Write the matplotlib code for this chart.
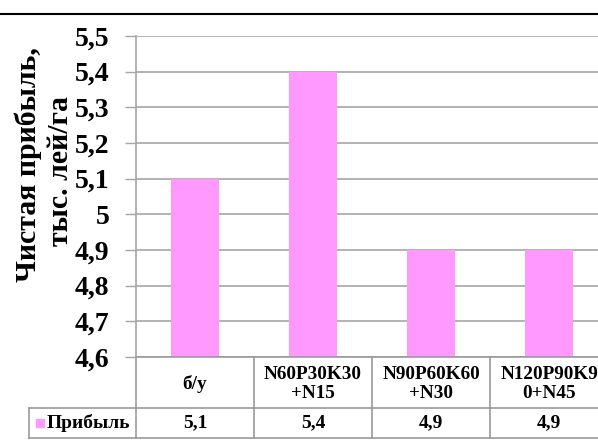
import matplotlib
matplotlib.use("Agg")
import matplotlib.pyplot as plt
from matplotlib.lines import Line2D
from matplotlib.patches import Rectangle

plt.rcParams['font.family'] = ['Liberation Serif', 'DejaVu Serif']
plt.rcParams['font.weight'] = 'bold'

categories = ["б/у", "N60P30K30\n+N15", "N90P60K60\n+N30", "N120P90K9\n0+N45"]
profit = [5.1, 5.4, 4.9, 4.9]
value_labels = ["5,1", "5,4", "4,9", "4,9"]
series_name = "Прибыль"
yticks = [4.6, 4.7, 4.8, 4.9, 5.0, 5.1, 5.2, 5.3, 5.4, 5.5]
ytick_labels = ["4,6", "4,7", "4,8", "4,9", "5", "5,1", "5,2", "5,3", "5,4", "5,5"]

W, H = 598, 444
fig = plt.figure(figsize=(W / 100, H / 100), dpi=100)
ax = fig.add_axes([136 / W, 1 - 357 / H, (608 - 136) / W, 321 / H])

pink = "#FF99FF"
grid_c = "#A6A6A6"
x = list(range(len(categories)))
ax.bar(x, [v - 4.6 for v in profit], bottom=4.6, width=0.4, color=pink, zorder=2)

ax.set_xlim(-0.5, 3.5)
ax.set_ylim(4.6, 5.5)
ax.set_yticks(yticks)
ax.set_yticklabels(ytick_labels, fontsize=20, fontweight='bold')
ax.set_xticks([])
ax.yaxis.grid(True, color=grid_c, linewidth=1.2, zorder=0)
ax.tick_params(axis='y', length=8, color=grid_c, width=1, pad=11)
for s in ['top', 'right', 'bottom']:
    ax.spines[s].set_visible(False)
ax.spines['left'].set_color(grid_c)
ax.spines['left'].set_linewidth(1.2)

# data table below the axes
per_px = 1 / 321
r1 = -51 * per_px
r2 = -81 * per_px
left_x = -0.5 - (136 - 29) / 118
tc = "#999999"
tf = ax.get_xaxis_transform()
for xb in [-0.5, 0.5, 1.5, 2.5, 3.5]:
    ax.add_line(Line2D([xb, xb], [0, r2], color=tc, lw=1.2, transform=tf, clip_on=False))
ax.add_line(Line2D([-0.5, 4], [0, 0], color=tc, lw=1.2, transform=tf, clip_on=False))
for yr in [r1, r2]:
    ax.add_line(Line2D([left_x, 4], [yr, yr], color=tc, lw=1.2, transform=tf, clip_on=False))
ax.add_line(Line2D([left_x, left_x], [r1, r2], color=tc, lw=1.2, transform=tf, clip_on=False))

for i, c in enumerate(categories):
    ax.text(i, r1 / 2 - 1.5 * per_px, c, transform=tf, ha='center', va='center', fontsize=13.8,
            fontweight='bold', linespacing=1.12, clip_on=False)
    ax.text(i, (r1 + r2) / 2, value_labels[i], transform=tf, ha='center', va='center',
            fontsize=14, fontweight='bold', clip_on=False)

# legend key inside table
kx = -0.5 - (136 - 36) / 118
ax.add_patch(Rectangle((kx, (r1 + r2) / 2 - 4 * per_px), 8 / 118, 8 * per_px,
                       transform=tf, color=pink, clip_on=False))
ax.text(-0.5 - (136 - 47) / 118, (r1 + r2) / 2, series_name, transform=tf, ha='left',
        va='center', fontsize=14, fontweight='bold', clip_on=False)

# axis title
fig.text(28 / W, 1 - 165 / H, "Чистая прибыль,", rotation=90, ha='center', va='center',
         fontsize=21.5, fontweight='bold')
fig.text(61 / W, 1 - 171 / H, "тыс. лей/га", rotation=90, ha='center', va='center',
         fontsize=21.5, fontweight='bold')

# top border line
fig.add_artist(Line2D([0, 1], [1 - 14.5 / H, 1 - 14.5 / H], color='black', lw=1.5,
                      transform=fig.transFigure))

fig.savefig("out.png", dpi=100)
